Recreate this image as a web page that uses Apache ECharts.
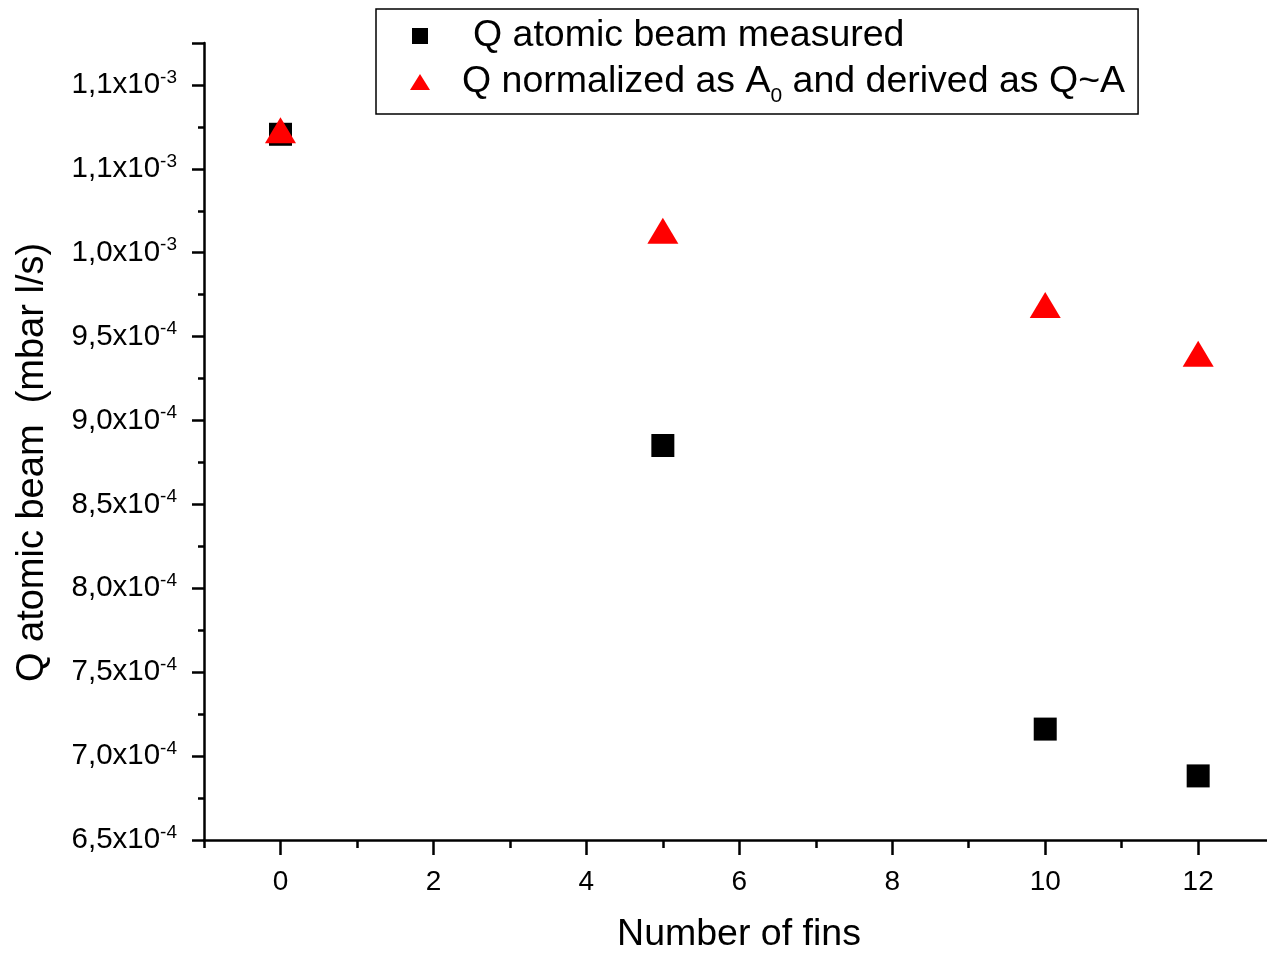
<!DOCTYPE html>
<html>
<head>
<meta charset="utf-8">
<script src="https://cdn.jsdelivr.net/npm/echarts@6/dist/echarts.min.js"></script>
<style>
  html, body { margin: 0; padding: 0; background: #fff; }
  #chart { width: 1267px; height: 959px; }
</style>
</head>
<body>
<div id="chart"></div>
<script>
// Number of fins on the x axis
const fins = [0, 5, 10, 12];
// Gas flow of the atomic beam, mbar l/s
const measured = [1.0706e-3, 8.851e-4, 7.161e-4, 6.882e-4];
const normalized = [1.0730e-3, 1.0131e-3, 9.688e-4, 9.398e-4];

const seriesNames = ['Q atomic beam measured', 'Q normalized as A0 and derived as Q~A'];

// Axis ticks and labels
const xMajorTicks = [0, 2, 4, 6, 8, 10, 12];
const xMinorTicks = [-1, 1, 3, 5, 7, 9, 11];
const yMajorTicks = [6.5e-4, 7.0e-4, 7.5e-4, 8.0e-4, 8.5e-4, 9.0e-4, 9.5e-4, 1.0e-3, 1.05e-3, 1.1e-3, 1.125e-3];
const yLabelValues = [6.5e-4, 7.0e-4, 7.5e-4, 8.0e-4, 8.5e-4, 9.0e-4, 9.5e-4, 1.0e-3, 1.05e-3, 1.1e-3];
const yLabelMantissa = ['6,5', '7,0', '7,5', '8,0', '8,5', '9,0', '9,5', '1,0', '1,1', '1,1'];
const yLabelExponent = ['-4', '-4', '-4', '-4', '-4', '-4', '-4', '-3', '-3', '-3'];
const yMinorTicks = [6.75e-4, 7.25e-4, 7.75e-4, 8.25e-4, 8.75e-4, 9.25e-4, 9.75e-4, 1.025e-3, 1.075e-3];

const FONT = 'Liberation Sans, Arial, sans-serif';
const X_MIN = -1, X_MAX = 12.9, Y_MIN = 6.5e-4, Y_MAX = 1.125e-3;

const chart = echarts.init(document.getElementById('chart'), null, { renderer: 'canvas' });

function yLabel(value) {
  let best = 0;
  for (let i = 1; i < yLabelValues.length; i++) {
    if (Math.abs(yLabelValues[i] - value) < Math.abs(yLabelValues[best] - value)) best = i;
  }
  return '{m|' + yLabelMantissa[best] + 'x10}{e|' + yLabelExponent[best] + '}';
}

const axisLineStyle = { color: '#000', width: 2.5 };

chart.setOption({
  backgroundColor: '#fff',
  animation: false,
  grid: { left: 204, top: 43, right: 0, bottom: 118, containLabel: false },
  legend: {
    orient: 'vertical',
    left: 376,
    top: 9,
    padding: [8, 13, 7, 34],
    itemGap: 8,
    itemWidth: 20,
    itemHeight: 16,
    borderColor: '#000',
    borderWidth: 1.5,
    selectedMode: false,
    data: [
      { name: seriesNames[0], icon: 'path://M0,0h10v10h-10z' },
      { name: seriesNames[1], icon: 'triangle' }
    ],
    formatter: function (name) {
      if (name === seriesNames[0]) return '{t1|' + name + '}';
      return '{t2|Q normalized as A}{sub|0}{t3| and derived as Q~A}';
    },
    textStyle: {
      color: '#000',
      fontFamily: FONT,
      fontSize: 37.5,
      rich: {
        t1: { fontFamily: FONT, fontSize: 37.5, color: '#000', lineHeight: 40, padding: [0, 0, 0, 38] },
        t2: { fontFamily: FONT, fontSize: 37.5, color: '#000', lineHeight: 50, padding: [0, 0, 0, 27] },
        sub: { fontFamily: FONT, fontSize: 21, color: '#000', lineHeight: 21, verticalAlign: 'bottom' },
        t3: { fontFamily: FONT, fontSize: 37.5, color: '#000', lineHeight: 50 }
      }
    }
  },
  xAxis: [
    {
      type: 'value',
      min: X_MIN,
      max: X_MAX,
      name: 'Number of fins',
      nameLocation: 'middle',
      nameGap: 76,
      nameTextStyle: { fontFamily: FONT, fontSize: 37.5, color: '#000', padding: [0, 0, 0, 7] },
      axisLine: { show: true, onZero: false, lineStyle: axisLineStyle },
      axisTick: { show: true, inside: false, length: 15, lineStyle: axisLineStyle, customValues: xMajorTicks },
      axisLabel: { show: true, margin: 28, fontFamily: FONT, fontSize: 28, color: '#000', customValues: xMajorTicks },
      splitLine: { show: false }
    },
    {
      type: 'value',
      min: X_MIN,
      max: X_MAX,
      position: 'bottom',
      axisLine: { show: false, onZero: false },
      axisTick: { show: true, inside: false, length: 8, lineStyle: axisLineStyle, customValues: xMinorTicks },
      axisLabel: { show: false },
      splitLine: { show: false }
    }
  ],
  yAxis: [
    {
      type: 'value',
      min: Y_MIN,
      max: Y_MAX,
      name: 'Q atomic beam  (mbar l/s)',
      nameLocation: 'middle',
      nameGap: 152,
      nameTextStyle: { fontFamily: FONT, fontSize: 38, color: '#000', padding: [0, 42, 0, 0] },
      axisLine: { show: true, onZero: false, lineStyle: axisLineStyle },
      axisTick: { show: true, inside: false, length: 12, lineStyle: axisLineStyle, customValues: yMajorTicks },
      axisLabel: {
        show: true,
        margin: 27,
        customValues: yLabelValues,
        formatter: yLabel,
        rich: {
          m: { fontFamily: FONT, fontSize: 29.5, color: '#000', lineHeight: 34 },
          e: { fontFamily: FONT, fontSize: 19, color: '#000', lineHeight: 20, verticalAlign: 'top' }
        }
      },
      splitLine: { show: false }
    },
    {
      type: 'value',
      min: Y_MIN,
      max: Y_MAX,
      position: 'left',
      axisLine: { show: false, onZero: false },
      axisTick: { show: true, inside: false, length: 6, lineStyle: axisLineStyle, customValues: yMinorTicks },
      axisLabel: { show: false },
      splitLine: { show: false }
    }
  ],
  series: [
    {
      name: seriesNames[0],
      type: 'scatter',
      symbol: 'rect',
      symbolSize: 23,
      itemStyle: { color: '#000', opacity: 1 },
      data: fins.map((x, i) => [x, measured[i]]),
      z: 2
    },
    {
      name: seriesNames[1],
      type: 'scatter',
      symbol: 'triangle',
      symbolSize: [31, 26],
      itemStyle: { color: '#ff0000', opacity: 1 },
      data: fins.map((x, i) => [x, normalized[i]]),
      z: 3
    }
  ]
});
</script>
</body>
</html>
